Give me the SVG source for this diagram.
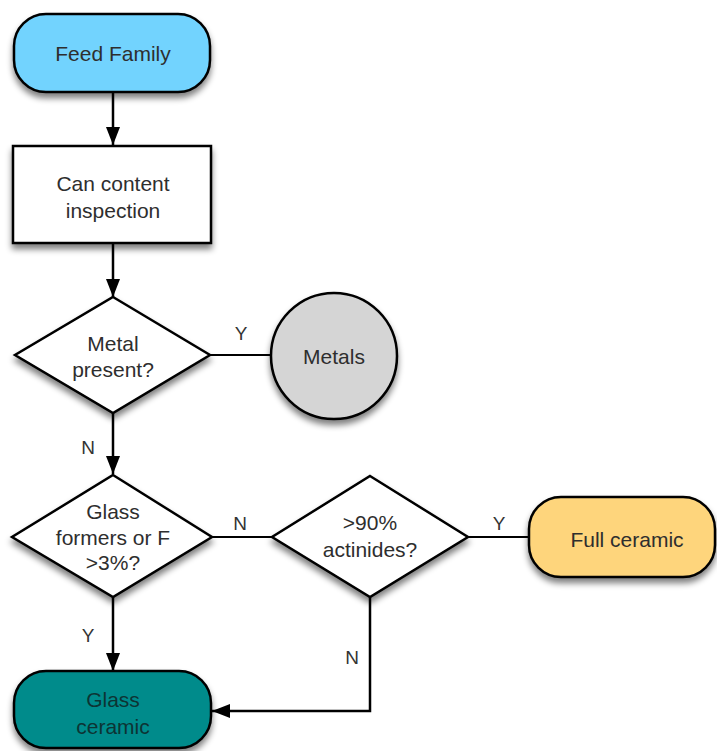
<svg xmlns="http://www.w3.org/2000/svg" width="717" height="751" viewBox="0 0 717 751">
<style>
.node{stroke:#000;stroke-width:2.5;filter:url(#sh)}
.lbl{font-family:"Liberation Sans",Arial,sans-serif;font-size:21px;fill:#2e2e2e;text-anchor:middle}
.edge{fill:none;stroke:#000;stroke-width:2.5}
.line{fill:none;stroke:#000;stroke-width:2}
.yn{font-family:"Liberation Sans",Arial,sans-serif;font-size:19px;fill:#333;text-anchor:middle}
</style>
<defs>
<filter id="sh" x="-20%" y="-20%" width="140%" height="150%">
<feGaussianBlur in="SourceAlpha" stdDeviation="3"/>
<feOffset dx="0" dy="5" result="b"/>
<feComponentTransfer><feFuncA type="linear" slope="0.5"/></feComponentTransfer>
<feMerge><feMergeNode/><feMergeNode in="SourceGraphic"/></feMerge>
</filter>
<marker id="ah" markerWidth="18" markerHeight="14" refX="18" refY="7" orient="auto" markerUnits="userSpaceOnUse">
<path d="M0,0 L18,7 L0,14 Z" fill="#000"/>
</marker>
</defs>
<rect width="717" height="751" fill="#fff"/>
<g id="connectors">
<line class="edge" x1="113" y1="92" x2="113" y2="145" marker-end="url(#ah)"/>
<line class="edge" x1="113" y1="243" x2="113" y2="297" marker-end="url(#ah)"/>
<line class="line" x1="210" y1="355" x2="270" y2="355"/>
<text class="yn" x="241" y="340">Y</text>
<line class="edge" x1="113" y1="413" x2="113" y2="474" marker-end="url(#ah)"/>
<text class="yn" x="88" y="454">N</text>
<line class="line" x1="212" y1="537" x2="272" y2="537"/>
<text class="yn" x="240" y="530">N</text>
<line class="line" x1="468" y1="537" x2="529" y2="537"/>
<text class="yn" x="499" y="530">Y</text>
<line class="edge" x1="113" y1="597" x2="113" y2="671" marker-end="url(#ah)"/>
<text class="yn" x="88" y="642">Y</text>
<polyline class="edge" points="370,597 370,711 212,711" marker-end="url(#ah)"/>
<text class="yn" x="352" y="664">N</text>
</g>
<g id="feed-family">
<rect class="node" x="14" y="14" width="196" height="78" rx="32" fill="#72d3fe"/>
<text class="lbl" x="113" y="61">Feed Family</text>
</g>
<g id="can-content">
<rect class="node" x="13" y="146" width="198" height="97" fill="#fff"/>
<text class="lbl" x="113" y="191">Can content</text>
<text class="lbl" x="113" y="218">inspection</text>
</g>
<g id="metal-present">
<polygon class="node" points="113,297 210,355 113,413 15,355" fill="#fff"/>
<text class="lbl" x="113" y="351">Metal</text>
<text class="lbl" x="113" y="377">present?</text>
</g>
<g id="metals">
<circle class="node" cx="334" cy="356" r="63" fill="#d5d5d5"/>
<text class="lbl" x="334" y="364">Metals</text>
</g>
<g id="glass-formers">
<polygon class="node" points="113,475 212,537 113,597 12,537" fill="#fff"/>
<text class="lbl" x="113" y="519">Glass</text>
<text class="lbl" x="113" y="545">formers or F</text>
<text class="lbl" x="113" y="570">&gt;3%?</text>
</g>
<g id="actinides">
<polygon class="node" points="370,476 468,537 370,597 272,537" fill="#fff"/>
<text class="lbl" x="370" y="530">&gt;90%</text>
<text class="lbl" x="370" y="557">actinides?</text>
</g>
<g id="full-ceramic">
<rect class="node" x="529" y="497" width="186" height="80" rx="32" fill="#fed57c"/>
<text class="lbl" x="627" y="547">Full ceramic</text>
</g>
<g id="glass-ceramic">
<rect class="node" x="14" y="671" width="197" height="77" rx="32" fill="#008b8b"/>
<text class="lbl" x="113" y="707" style="fill:#0d3434">Glass</text>
<text class="lbl" x="113" y="734" style="fill:#0d3434">ceramic</text>
</g>
</svg>
